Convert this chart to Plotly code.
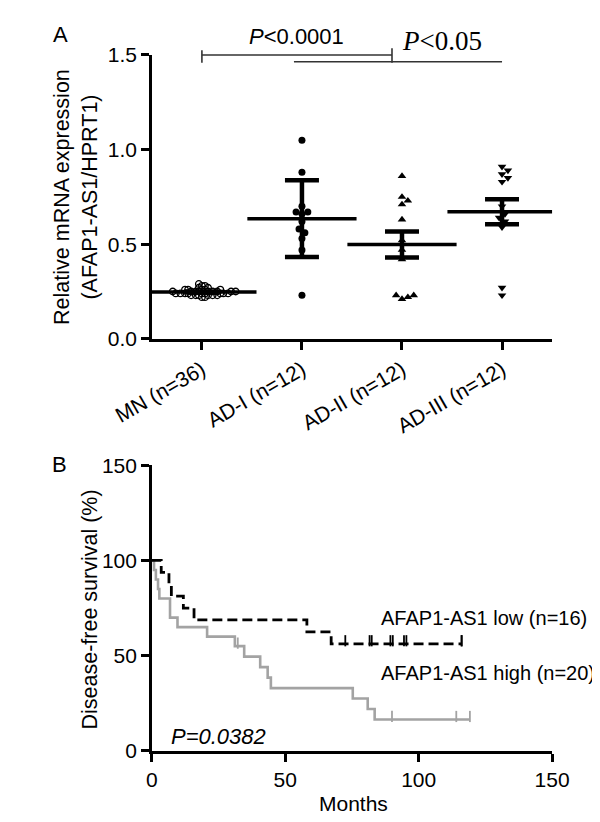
import numpy as np
import plotly.graph_objects as go

# ---------------- Panel A data ----------------
groups = ["MN (n=36)", "AD-I (n=12)", "AD-II (n=12)", "AD-III (n=12)"]
mn_vals = [0.22, 0.23, 0.23, 0.24, 0.24, 0.24, 0.25, 0.25, 0.25, 0.26, 0.26, 0.27,
           0.28, 0.29, 0.24, 0.25, 0.23, 0.26, 0.24, 0.25, 0.22, 0.23, 0.24, 0.25,
           0.26, 0.27, 0.24, 0.25, 0.23, 0.24, 0.25, 0.26, 0.24, 0.25, 0.28, 0.23]
ad1_vals = [1.05, 0.88, 0.70, 0.67, 0.67, 0.66, 0.62, 0.58, 0.56, 0.53, 0.47, 0.23]
ad2_vals = [0.86, 0.75, 0.73, 0.71, 0.63, 0.52, 0.47, 0.42, 0.23, 0.21, 0.22, 0.23]
ad3_vals = [0.91, 0.89, 0.87, 0.85, 0.83, 0.70, 0.66, 0.64, 0.62, 0.59, 0.27, 0.23]
err_kind = ["sem", "sd", "sem", "sem"]
y_ticks = [0.0, 0.5, 1.0, 1.5]
y_ticktext = ["0.0", "0.5", "1.0", "1.5"]

# ---------------- Panel B data ----------------
low_times = [3.5, 6.4, 7.3, 11.8, 15.8, 58.1, 67.2, 72.5, 81.6, 82.4, 89.4, 90.3,
             94.5, 95.4, 116.1, 116.1]
low_events = [1, 1, 1, 1, 1, 1, 1, 0, 0, 0, 0, 0, 0, 0, 0, 0]
high_times = [0.8, 1.5, 2.3, 2.8, 6.8, 6.8, 9.6, 20.7, 31.1, 32.2, 34.6, 40.6, 43.4,
              44.6, 75.3, 80.9, 83.5, 90.0, 114.1, 119.2]
high_events = [1, 1, 1, 1, 1, 1, 1, 1, 1, 0, 1, 1, 1, 1, 1, 1, 1, 0, 0, 0]
month_ticks = [0, 50, 100, 150]
surv_ticks = [0, 50, 100, 150]

W, H = 600, 822
FONT = "Liberation Sans, Arial, sans-serif"
FS = 21

# geometry (pixels)
XL, XR = 115, 558
A_TOP, A_BOT = 36, 328
B_TOP, B_BOT = 458, 752
px_per_cat = (XR - XL) / 4.0
px_per_val = (A_BOT - A_TOP) / 1.5


def swarm(vals, idx, dist):
    order = np.argsort(vals)
    placed = []
    xs = np.zeros(len(vals))
    for k in order:
        yv = vals[k] * px_per_val
        off = 0.0
        for j in range(0, 80):
            off = ((j + 1) // 2) * dist * 0.5 * (1 if j % 2 else -1) if j else 0.0
            if all((off - px) ** 2 + (yv - py) ** 2 >= dist ** 2 for px, py in placed):
                break
        placed.append((off, yv))
        xs[k] = idx + off / px_per_cat
    return xs


fig = go.Figure()
all_vals = [mn_vals, ad1_vals, ad2_vals, ad3_vals]
styles = [
    dict(symbol="circle-open", size=6.5, color="black", line=dict(width=1.3, color="black")),
    dict(symbol="circle", size=7, color="black"),
    dict(symbol="triangle-up", size=7.5, color="black"),
    dict(symbol="triangle-down", size=7.5, color="black"),
]
swarm_dist = [3.4, 6.5, 6.5, 6.5]
means, errs = [], []
for i, vals in enumerate(all_vals):
    v = np.array(vals, dtype=float)
    xs = swarm(v, i, swarm_dist[i])
    fig.add_trace(go.Scatter(x=xs, y=v, mode="markers", marker=styles[i],
                             xaxis="x", yaxis="y", showlegend=False))
    means.append(v.mean())
    sd = v.std(ddof=1)
    errs.append(sd if err_kind[i] == "sd" else sd / np.sqrt(len(v)))

fig.add_trace(go.Scatter(
    x=list(range(4)), y=means, mode="markers", xaxis="x", yaxis="y", showlegend=False,
    marker=dict(symbol="line-ew", size=78, color="black", line=dict(width=3.5, color="black")),
    error_y=dict(type="data", array=errs, visible=True, thickness=4.5, width=17, color="black"),
))


def km(times, events):
    t = np.array(times, float)
    e = np.array(events, int)
    n = len(t)
    s = 100.0
    xs, ys, cx, cy = [0.0], [100.0], [], []
    for ut in np.unique(t):
        d = int(((t == ut) & (e == 1)).sum())
        c = int(((t == ut) & (e == 0)).sum())
        if d:
            s *= 1 - d / n
            xs.append(ut)
            ys.append(s)
        if c:
            cx += [ut] * c
            cy += [s] * c
        n -= d + c
    xs.append(t.max())
    ys.append(s)
    return xs, ys, cx, cy


for times, events, col, dash, lw in [(high_times, high_events, "#a3a3a3", "solid", 2.6),
                                     (low_times, low_events, "black", "10px,5px", 2.8)]:
    xs, ys, cx, cy = km(times, events)
    fig.add_trace(go.Scatter(x=xs, y=ys, mode="lines", line=dict(shape="hv", color=col, width=lw, dash=dash),
                             xaxis="x2", yaxis="y2", showlegend=False))
    fig.add_trace(go.Scatter(x=cx, y=[c + 1.6 for c in cy], mode="markers", xaxis="x2", yaxis="y2",
                             showlegend=False,
                             marker=dict(symbol="line-ns", size=8, color=col, line=dict(width=1.8, color=col))))

axis_common = dict(showline=True, linecolor="black", linewidth=2.5, ticks="outside", ticklen=8,
                   tickwidth=2.5, tickcolor="black", showgrid=False, zeroline=False,
                   tickfont=dict(family=FONT, size=FS, color="black"))

dom_x = [XL / W, XR / W]
fig.update_layout(
    width=W, height=H, margin=dict(l=0, r=0, t=0, b=0),
    paper_bgcolor="white", plot_bgcolor="white",
    xaxis=dict(domain=dom_x, range=[-0.5, 3.5], tickvals=list(range(4)), ticktext=groups,
               tickangle=-30, anchor="y", **axis_common),
    yaxis=dict(domain=[1 - A_BOT / H, 1 - A_TOP / H], range=[0, 1.5], tickvals=y_ticks,
               ticktext=y_ticktext, anchor="x", **axis_common),
    xaxis2=dict(domain=dom_x, range=[0, 150], tickvals=month_ticks, anchor="y2", **axis_common),
    yaxis2=dict(domain=[1 - B_BOT / H, 1 - B_TOP / H], range=[0, 150], tickvals=surv_ticks,
                anchor="x2", **axis_common),
)

# significance brackets
BR1_Y, BR2_Y = 36, 43
line_style = dict(color="#333333", width=1.6)
shapes = [
    dict(type="line", xref="x", yref="paper", x0=0.0, x1=1.9, y0=1 - BR1_Y / H, y1=1 - BR1_Y / H, line=line_style),
    dict(type="line", xref="x", yref="paper", x0=0.0, x1=0.0, y0=1 - 31 / H, y1=1 - 44 / H, line=line_style),
    dict(type="line", xref="x", yref="paper", x0=1.9, x1=1.9, y0=1 - 29 / H, y1=1 - 44 / H, line=line_style),
    dict(type="line", xref="x", yref="paper", x0=0.92, x1=3.0, y0=1 - BR2_Y / H, y1=1 - BR2_Y / H, line=line_style),
]
fig.update_layout(shapes=shapes)

ann = []


def text(x, y, s, size=FS, family=FONT, xanchor="center", angle=0):
    ann.append(dict(x=x / W, y=1 - y / H, xref="paper", yref="paper", text=s, showarrow=False,
                    xanchor=xanchor, yanchor="middle", textangle=angle,
                    font=dict(family=family, size=size, color="black")))


text(14, 15, "A", 22)
text(13, 457, "B", 22)
text(275, 17, "<i>P</i><0.0001", 22)
text(436, 22, "<i>P</i><0.05", 27, family="Liberation Serif, Times New Roman, serif")
text(31, 182, "Relative mRNA expression<br>(AFAP1-AS1/HPRT1)", 21.5, angle=-90)
text(47, 606, "Disease-free survival (%)", 21.5, angle=-90)
text(338, 806, "Months", 21)
text(366, 615, "AFAP1-AS1 low (n=16)", 20, xanchor="left")
text(366, 672, "AFAP1-AS1 high (n=20)", 20, xanchor="left")
text(134, 737, "<i>P=0.0382</i>", 22, xanchor="left")
fig.update_layout(annotations=ann)

fig.write_html("out.html")
